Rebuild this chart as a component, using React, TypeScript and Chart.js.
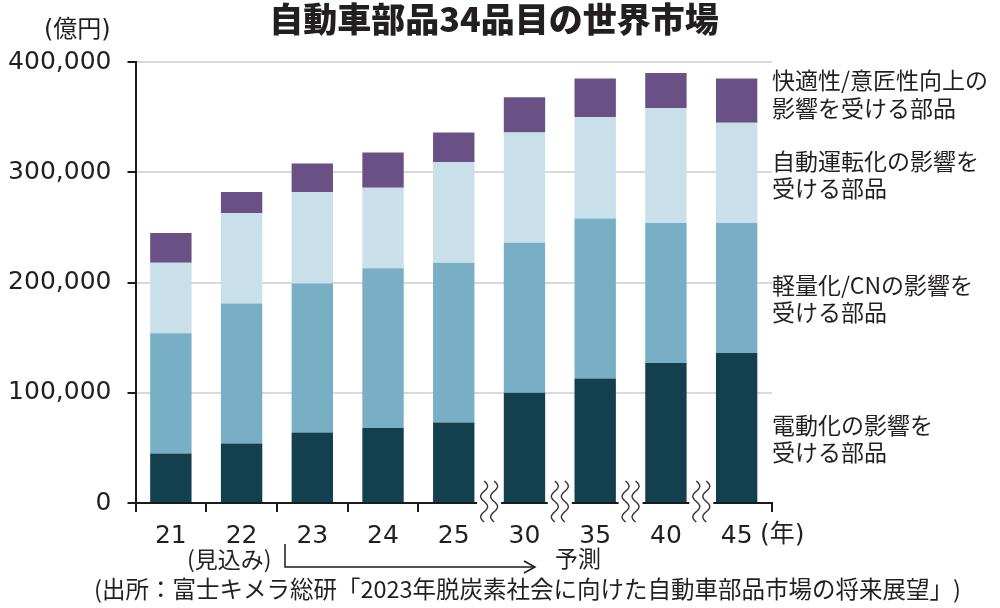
import React, { useEffect, useRef } from "react";
import { Chart, registerables } from "chart.js";

Chart.register(...registerables);

const categories = ["21", "22", "23", "24", "25", "30", "35", "40", "45"];
const electrification = [45000, 54000, 64000, 68000, 73000, 100000, 113000, 127000, 136000];
const lightweightCN = [109000, 127000, 135000, 145000, 145000, 136000, 145000, 127000, 118000];
const autonomous = [64000, 82000, 83000, 73000, 91000, 100000, 92000, 104000, 91000];
const comfortDesign = [27000, 19000, 26000, 32000, 27000, 32000, 35000, 32000, 40000];
const yTickValues = [0, 100000, 200000, 300000, 400000];
const breakBoundaries = [5, 6, 7, 8];

const FONT = '"Noto Sans CJK JP", "Noto Sans", sans-serif';
const NUMFONT = '"DejaVu Sans", "Noto Sans CJK JP", sans-serif';
const TEXT = "#231f20";

const decorPlugin = {
  id: "decor",
  afterDraw(chart: any) {
    const { ctx, scales } = chart;
    const xs = scales.x;
    const ys = scales.y;
    const y0 = ys.getPixelForValue(0);
    const half = (xs.getPixelForValue(1) - xs.getPixelForValue(0)) / 2;
    const bounds: number[] = categories.map((_, i) => xs.getPixelForValue(i) - half);
    bounds.push(xs.getPixelForValue(categories.length - 1) + half);
    const gap = 12;

    ctx.save();
    // x axis line with breaks
    ctx.strokeStyle = "#1a1a1a";
    ctx.lineWidth = 2;
    let start = bounds[0] - 1;
    const stops = [...breakBoundaries, bounds.length - 1];
    stops.forEach((bi, k) => {
      const isBreak = k < breakBoundaries.length;
      const end = isBreak ? bounds[bi] - gap : bounds[bi] + 1;
      ctx.beginPath();
      ctx.moveTo(start, y0);
      ctx.lineTo(end, y0);
      ctx.stroke();
      start = bounds[bi] + gap;
    });

    // wavy break marks
    ctx.lineWidth = 1.4;
    ctx.strokeStyle = "#333";
    breakBoundaries.forEach((bi) => {
      [-5, 5].forEach((dx) => {
        const cx = bounds[bi] + dx;
        ctx.beginPath();
        const top = y0 - 22;
        const bot = y0 + 19;
        for (let t = 0; t <= 40; t++) {
          const yy = top + ((bot - top) * t) / 40;
          const xx = cx + 3.5 * Math.sin((t / 40) * Math.PI * 4);
          if (t === 0) ctx.moveTo(xx, yy);
          else ctx.lineTo(xx, yy);
        }
        ctx.stroke();
      });
    });

    // texts
    ctx.fillStyle = TEXT;
    ctx.textBaseline = "middle";
    ctx.textAlign = "center";
    ctx.font = `900 34px ${FONT}`;
    ctx.fillText("自動車部品34品目の世界市場", 494, 19);

    ctx.textAlign = "left";
    ctx.font = `24px ${NUMFONT}`;
    ctx.fillText("(億円)", 44, 31);

    const rightLabels: [string, number][] = [
      ["快適性/意匠性向上の", 80],
      ["影響を受ける部品", 108],
      ["自動運転化の影響を", 161],
      ["受ける部品", 188],
      ["軽量化/CNの影響を", 285],
      ["受ける部品", 312],
      ["電動化の影響を", 425],
      ["受ける部品", 452],
    ];
    ctx.font = `23px ${FONT}`;
    rightLabels.forEach(([t, yy]) => ctx.fillText(t, 772, yy));

    ctx.font = `25px ${NUMFONT}`;
    ctx.fillText("(年)", 760, 535);

    ctx.font = `23px ${FONT}`;
    ctx.fillText("(見込み)", 187, 559);
    ctx.fillText("予測", 555, 558);
    ctx.font = `23.5px ${FONT}`;
    ctx.fillText(
      "(出所：富士キメラ総研「2023年脱炭素社会に向けた自動車部品市場の将来展望」)",
      94,
      589,
      868
    );

    // arrow
    ctx.strokeStyle = "#1a1a1a";
    ctx.lineWidth = 1.5;
    ctx.beginPath();
    ctx.moveTo(285, 544);
    ctx.lineTo(285, 567);
    ctx.lineTo(534, 567);
    ctx.stroke();
    ctx.beginPath();
    ctx.moveTo(524, 561);
    ctx.lineTo(535, 567);
    ctx.lineTo(524, 573);
    ctx.stroke();
    ctx.restore();
  },
};

export default function App() {
  const ref = useRef<HTMLCanvasElement | null>(null);
  useEffect(() => {
    if (!ref.current) return;
    const chart = new Chart(ref.current, {
      type: "bar",
      data: {
        labels: categories,
        datasets: [
          { label: "電動化の影響を受ける部品", data: electrification, backgroundColor: "#13404f" },
          { label: "軽量化/CNの影響を受ける部品", data: lightweightCN, backgroundColor: "#78afc5" },
          { label: "自動運転化の影響を受ける部品", data: autonomous, backgroundColor: "#c9dfe9" },
          { label: "快適性/意匠性向上の影響を受ける部品", data: comfortDesign, backgroundColor: "#6a5185" },
        ].map((d) => ({ ...d, borderWidth: 0, barPercentage: 0.585, categoryPercentage: 1 })),
      },
      options: {
        responsive: false,
        animation: false,
        layout: { padding: { left: 0, top: 62, right: 228, bottom: 0 } },
        plugins: { legend: { display: false }, tooltip: { enabled: false }, title: { display: false } },
        scales: {
          x: {
            stacked: true,
            border: { display: false },
            grid: {
              offset: true,
              drawOnChartArea: false,
              tickLength: 9,
              lineWidth: 2,
              color: (c: any) =>
                c.index !== undefined && c.index >= 5 && c.index <= 8 ? "rgba(0,0,0,0)" : "#1a1a1a",
            },
            ticks: { color: TEXT, font: { family: NUMFONT, size: 25 }, padding: 9 },
            afterFit: (s: any) => {
              s.height = 105;
            },
          },
          y: {
            stacked: true,
            min: 0,
            max: 400000,
            border: { display: true, color: "#1a1a1a", width: 2 },
            grid: {
              lineWidth: 2,
              tickLength: 8,
              color: (c: any) => (c.tick && c.tick.value === 0 ? "rgba(0,0,0,0)" : "#d9d9d9"),
              tickColor: "#1a1a1a",
            },
            afterBuildTicks: (s: any) => {
              s.ticks = yTickValues.map((v) => ({ value: v }));
            },
            ticks: {
              color: TEXT,
              font: { family: NUMFONT, size: 25 },
              padding: 16,
              callback: (v: any) => Number(v).toLocaleString("en-US"),
            },
            afterFit: (s: any) => {
              s.width = 135.5;
            },
          },
        },
      },
      plugins: [decorPlugin],
    });
    return () => chart.destroy();
  }, []);
  return (
    <div style={{ position: "fixed", left: 0, top: 0, width: 1000, height: 608, background: "#fff" }}>
      <canvas ref={ref} width={1000} height={608} style={{ width: 1000, height: 608 }} />
    </div>
  );
}
